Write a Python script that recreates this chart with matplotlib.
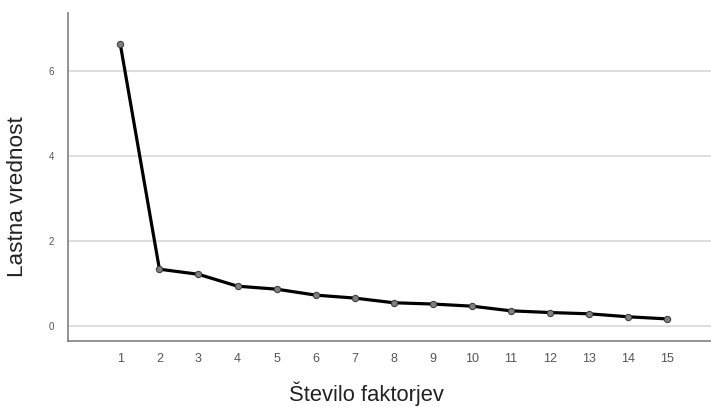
import matplotlib.pyplot as plt

# Scree plot data
factors = list(range(1, 16))
eigenvalues = [6.62, 1.33, 1.21, 0.93, 0.86, 0.72, 0.65, 0.54, 0.51, 0.46,
               0.35, 0.31, 0.28, 0.21, 0.16]
y_ticks = [0, 2, 4, 6]

plt.rcParams['font.family'] = ['Liberation Sans', 'DejaVu Sans']

fig = plt.figure(figsize=(7.11, 4.07), dpi=100)
ax = fig.add_axes([68 / 711, 66 / 407, 1 - 68 / 711, (341 - 13) / 407])

ax.plot(factors, eigenvalues, color='black', linewidth=2.3, zorder=3,
        marker='o', markersize=4.5, markerfacecolor='#808080',
        markeredgecolor='#404040', markeredgewidth=0.8)

ax.set_xlim(-0.34, 16.12)
ax.set_ylim(-0.36, 7.36)
ax.set_xticks(factors)
ax.set_yticks(y_ticks)
ax.tick_params(axis='x', length=0, labelsize=9, labelcolor='#555555', pad=9)
ax.tick_params(axis='y', length=0, labelsize=7, labelcolor='#555555', pad=10)

ax.grid(axis='y', color='#d9d9d9', linewidth=1.2)
ax.set_axisbelow(True)
for side in ['top', 'right']:
    ax.spines[side].set_visible(False)
for side in ['left', 'bottom']:
    ax.spines[side].set_color('#808080')
    ax.spines[side].set_linewidth(1.2)

fig.text(366 / 711, 1 - 394 / 407, 'Število faktorjev', fontsize=15.8,
         color='#222222', ha='center', va='center')
fig.text(18 / 711, 1 - 197 / 407, 'Lastna vrednost', fontsize=16.2,
         color='#222222', ha='center', va='center', rotation=90)

plt.savefig('out.png', dpi=100)
